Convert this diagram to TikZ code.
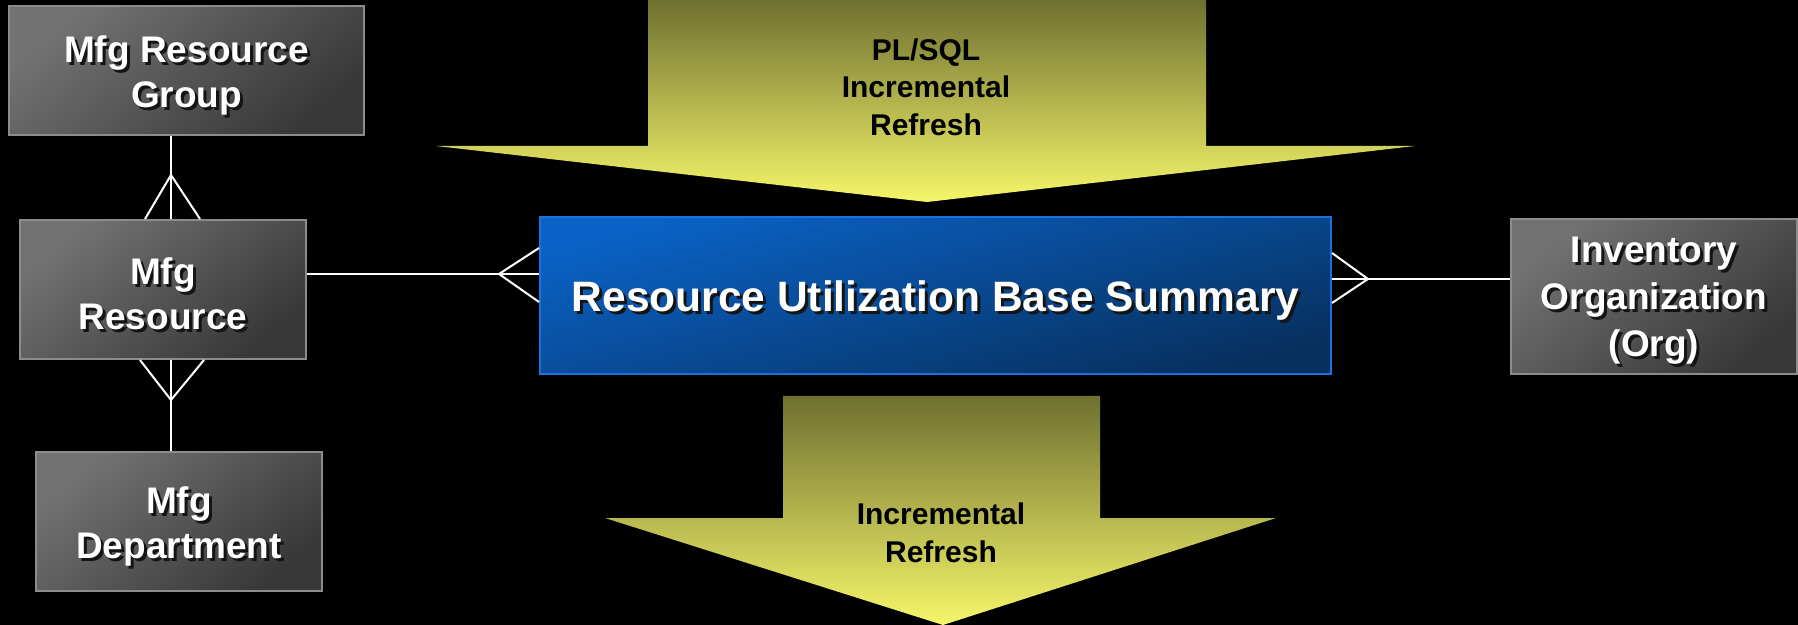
\documentclass[tikz,border=0pt]{standalone}
\usepackage{fontspec}
\setmainfont{Liberation Sans}
\usetikzlibrary{calc}
\definecolor{boxtop}{HTML}{727272}
\definecolor{boxbot}{HTML}{383838}
\definecolor{boxline}{HTML}{8C8C8C}
\definecolor{darkblue}{HTML}{0A62C6}
\definecolor{deepblue}{HTML}{07305E}
\definecolor{blueline}{HTML}{1E6FE0}
\definecolor{olive}{HTML}{6E7030}
\definecolor{lightyellow}{HTML}{F6F66A}
\definecolor{shade}{HTML}{141414}
\newcommand{\sh}[1]{%
\raisebox{-3pt}[\height][\depth]{\makebox[0pt][l]{\color{shade}\hspace{1.5pt}\raisebox{-1.5pt}{#1}}#1}%
}
\tikzset {
  % grey entity boxes
  entity/.style = {draw=boxline, line width=1pt, top color=boxtop, bottom color=boxbot,
    shading angle=40, text=white, align=center, inner sep=0pt,
    font=\bfseries\fontsize{18.5}{22.5}\selectfont},
  % the summary table
  fact/.style = {draw=blueline, line width=1pt, top color=darkblue, bottom color=deepblue,
    shading angle=15, text=white, inner sep=0pt,
    font=\bfseries\fontsize{21.25}{25}\selectfont},
  % refresh arrows
  flow/.style = {top color=olive, bottom color=lightyellow},
  flowtext/.style = {text=black, align=center, font=\bfseries\fontsize{15}{18.75}\selectfont},
  % relationship lines
  rel/.style = {white, line width=1pt},
}

\begin{document}
\begin{tikzpicture}[x=0.5pt, y=-0.5pt]
  \fill[black] (0,0) rectangle (1798,625);
  \useasboundingbox (0,0) rectangle (1798,625);

  \shade[flow] (648,0) -- (1206,0) -- (1206,146) -- (1415,146) -- (927,202)
    -- (436,146) -- (648,146) -- cycle;
  \shade[flow] (783,396) -- (1100,396) -- (1100,518) -- (1276,518) -- (943,625)
    -- (605,518) -- (783,518) -- cycle;
  \node[flowtext] (plsql) at (926,87) {PL/SQL\\Incremental\\Refresh};
  \node[flowtext] (incr) at (941,533) {Incremental\\Refresh};

  \node[entity, minimum width=177.5pt, minimum height=64.5pt] (group) at (186.5,70.5)
    {\sh{Mfg Resource}\\\sh{Group}};
  \node[entity, minimum width=143pt, minimum height=69.5pt] (res) at (163,289.5)
    {\sh{Mfg}\\\sh{Resource}};
  \node[entity, minimum width=143pt, minimum height=69.5pt] (dept) at (179,521.5)
    {\sh{Mfg}\\\sh{Department}};
  \node[entity, minimum width=143pt, minimum height=77.5pt,
    font=\bfseries\fontsize{18.5}{23.5}\selectfont] (inv) at (1654,296.5)
    {\sh{Inventory}\\\sh{Organization}\\\sh{(Org)}};
  \node[fact, minimum width=395.5pt, minimum height=78.5pt] (rubs) at (935.5,296)
    {\sh{Resource Utilization Base Summary}};

  % crow's feet
  \coordinate (gfoot) at (171,175);
  \draw[rel] (gfoot |- group.south) -- (gfoot |- res.north);
  \draw[rel] ($(gfoot |- res.north)+(-26,0)$) -- (gfoot) -- ($(gfoot |- res.north)+(29,0)$);

  \coordinate (dfoot) at (171,400);
  \draw[rel] (dfoot |- res.south) -- (dfoot |- dept.north);
  \draw[rel] ($(dfoot |- res.south)+(-31,0)$) -- (dfoot) -- ($(dfoot |- res.south)+(33,0)$);

  \coordinate (lfoot) at (499,274);
  \draw[rel] (lfoot -| res.east) -- (lfoot -| rubs.west);
  \draw[rel] ($(lfoot -| rubs.west)+(0,-26)$) -- (lfoot) -- ($(lfoot -| rubs.west)+(0,28)$);

  \coordinate (rfoot) at (1368,279);
  \draw[rel] (rfoot -| rubs.east) -- (rfoot -| inv.west);
  \draw[rel] ($(rfoot -| rubs.east)+(0,-26)$) -- (rfoot) -- ($(rfoot -| rubs.east)+(0,24)$);
\end{tikzpicture}
\end{document}
